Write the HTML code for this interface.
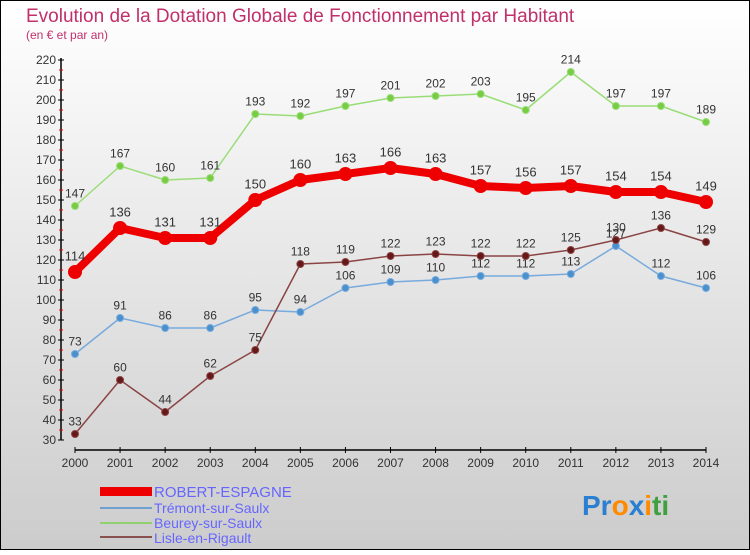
<!DOCTYPE html>
<html><head><meta charset="utf-8"><style>
body{margin:0}
#c{width:750px;height:550px;position:relative;font-family:"Liberation Sans",sans-serif}
</style></head><body>
<div id="c">
<svg id="s" width="750" height="550" xmlns="http://www.w3.org/2000/svg">
<defs><linearGradient id="bg" x1="0" y1="0" x2="0" y2="1"><stop offset="0" stop-color="#ffffff"/><stop offset="1" stop-color="#cccccc"/></linearGradient></defs>
<rect x="0.5" y="0.5" width="749" height="549" fill="url(#bg)" stroke="#000"/>
<text x="26" y="22" font-size="19" fill="#c0306a">Evolution de la Dotation Globale de Fonctionnement par Habitant</text>
<text x="26" y="39" font-size="12" fill="#c0306a">(en € et par an)</text>
<g id="axes"></g><g id="series"></g>
<g>
<rect x="100" y="487" width="52" height="9" fill="#ee0000"/>
<text x="154" y="497" font-size="15" fill="#6666ff">ROBERT-ESPAGNE</text>
<rect x="100" y="507" width="52" height="2" fill="#6fa0d0"/>
<text x="154" y="513" font-size="14" fill="#6666ff">Trémont-sur-Saulx</text>
<rect x="100" y="522" width="52" height="2" fill="#8fd070"/>
<text x="154" y="528" font-size="14" fill="#6666ff">Beurey-sur-Saulx</text>
<rect x="100" y="536" width="52" height="2" fill="#8a5050"/>
<text x="154" y="543" font-size="14" fill="#6666ff">Lisle-en-Rigault</text>
</g>
<text x="582" y="515" font-size="28" font-weight="bold"><tspan fill="#2a7fd0">Pr</tspan><tspan fill="#ff8a00">o</tspan><tspan fill="#2a7fd0">x</tspan><tspan fill="#ff8a00">i</tspan><tspan fill="#40a040">ti</tspan></text>
</svg></div>
<script>
const years=[2000,2001,2002,2003,2004,2005,2006,2007,2008,2009,2010,2011,2012,2013,2014];
const yTicks=[30,40,50,60,70,80,90,100,110,120,130,140,150,160,170,180,190,200,210,220];
const robert=[114,136,131,131,150,160,163,166,163,157,156,157,154,154,149];
const tremont=[73,91,86,86,95,94,106,109,110,112,112,113,127,112,106];
const beurey=[147,167,160,161,193,192,197,201,202,203,195,214,197,197,189];
const lisle=[33,60,44,62,75,118,119,122,123,122,122,125,130,136,129];
const NS="http://www.w3.org/2000/svg";
function xs(i){return 75+i*(631/14);}
function ys(v){return 440-(v-30)*2;}
function mk(t,a,p){const e=document.createElementNS(NS,t);for(const k in a)e.setAttribute(k,a[k]);p.appendChild(e);return e;}
const ax=document.getElementById('axes'),se=document.getElementById('series');
const yl=mk('line',{x1:61,y1:58,x2:61,y2:440,stroke:'#000','stroke-width':1.5},ax);


yTicks.forEach((v,i)=>{const y=ys(v);
mk('line',{x1:58,y1:y,x2:64,y2:y,stroke:'#000'},ax);
if(i<yTicks.length-1)mk('line',{x1:59,y1:y-10,x2:63,y2:y-10,stroke:'#e00'},ax);
const t=mk('text',{x:56,y:y+4,'font-size':12,'text-anchor':'end',fill:'#333'},ax);t.textContent=v;

});
const xl=mk('line',{x1:75,y1:450,x2:706,y2:450,stroke:'#000','stroke-width':1.5},ax);


years.forEach((yr,i)=>{const x=xs(i);mk('line',{x1:x,y1:447,x2:x,y2:453,stroke:'#000'},ax);
const t=mk('text',{x:x,y:467,'font-size':12,'text-anchor':'middle',fill:'#333'},ax);t.textContent=yr;

});
function draw(d,col,dot,w,r,name,fs){
const g=mk('g',{},se);


mk('polyline',{points:d.map((v,i)=>xs(i)+','+ys(v)).join(' '),fill:'none',stroke:col,'stroke-width':w,'stroke-linejoin':'round'},g);
d.forEach((v,i)=>{const c=mk('circle',{cx:xs(i),cy:ys(v),r:r,fill:dot,stroke:col},g);


const t=mk('text',{x:xs(i),y:ys(v)-(r+5),'font-size':fs,'text-anchor':'middle',fill:'#333'},g);t.textContent=v;

});}
draw(beurey,'#99dd77','#77cc44',1.5,3.5,'series-beurey-sur-saulx',12);
draw(tremont,'#77aadd','#4a90cc',1.5,3.5,'series-tremont-sur-saulx',12);
draw(lisle,'#8a4444','#661818',1.5,3.5,'series-lisle-en-rigault',12);
draw(robert,'#ee0000','#ee0000',8,6.5,'series-robert-espagne',13);
</script>
</body></html>
